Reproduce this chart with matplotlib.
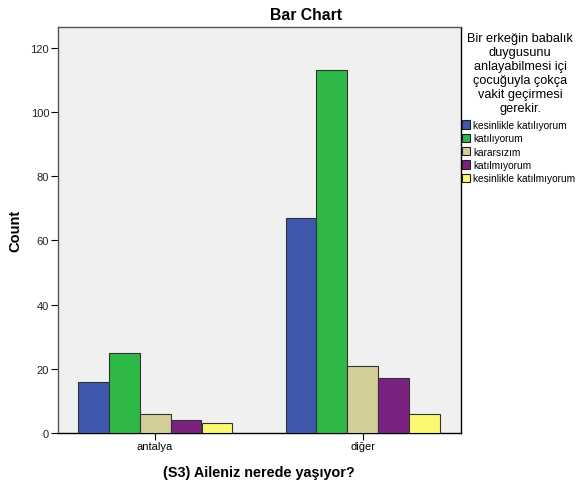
import numpy as np
import matplotlib.pyplot as plt
from matplotlib.patches import Patch

# veriler
categories = ['antalya', 'diğer']
responses = ['kesinlikle katılıyorum', 'katılıyorum', 'kararsızım',
             'katılmıyorum', 'kesinlikle katılmıyorum']
counts = {
    'kesinlikle katılıyorum': [16, 67],
    'katılıyorum': [25, 113],
    'kararsızım': [6, 21],
    'katılmıyorum': [4, 17],
    'kesinlikle katılmıyorum': [3, 6],
}
colors = ['#3E58AC', '#2EB848', '#D3CE97', '#7B2281', '#FBF873']
y_ticks = [0, 20, 40, 60, 80, 100, 120]
legend_title = ('Bir erkeğin babalık\nduygusunu\nanlayabilmesi içi\n'
                'çocuğuyla çokça\nvakit geçirmesi\ngerekir.')

plt.rcParams['font.family'] = ['Liberation Sans', 'DejaVu Sans']

fig = plt.figure(figsize=(5.77, 4.81), dpi=100)
# alan: sol 57.5, sağ 460.7, üst 28, alt 434 (piksel)
ax = fig.add_axes([57.5 / 577, 1 - 434 / 481, (460.7 - 57.5) / 577, (434 - 28) / 481])
ax.set_facecolor('#F0F0F0')

x = np.arange(len(categories))
w = 0.149
for i, (resp, c) in enumerate(zip(responses, colors)):
    offs = (i - 2) * w
    ax.bar(x + offs, counts[resp], width=w, color=c, edgecolor='#333333',
           linewidth=0.8, zorder=3)

ax.set_xlim(-0.469, 1.47)
ax.set_ylim(0, 126.5)
ax.set_xticks(x)
ax.set_xticklabels(categories, fontsize=8)
ax.set_yticks(y_ticks)
ax.set_yticklabels([str(v) for v in y_ticks], fontsize=8, color='#222222')
ax.tick_params(axis='both', direction='out', length=5, width=0.8, pad=1)

for s in ['right', 'bottom']:
    ax.spines[s].set_color('black')
    ax.spines[s].set_linewidth(1.0)
for s in ['left', 'top']:
    ax.spines[s].set_color('#555555')
    ax.spines[s].set_linewidth(1.0)

ax.set_ylabel('Count', fontsize=10.5, fontweight='bold', labelpad=6)
ax.set_xlabel('(S3) Aileniz nerede yaşıyor?', fontsize=10.4, fontweight='bold', labelpad=10)

fig.text(306 / 577, 1 - 15 / 481, 'Bar Chart', ha='center', va='center',
         fontsize=11.3, fontweight='bold')

# lejant başlığı ayrı metin olarak
fig.text(520 / 577, 1 - 33 / 481, legend_title, ha='center', va='top',
         multialignment='center', fontsize=9.2, linespacing=1.22)

handles = [Patch(facecolor=c, edgecolor='#222222', linewidth=0.8) for c in colors]
fig.legend(handles, responses, loc='upper left',
           bbox_to_anchor=(460 / 577, 1 - 119 / 481), frameon=False,
           fontsize=7.3, handlelength=0.8, handleheight=0.9,
           handletextpad=0.3, labelspacing=0.33, borderaxespad=0, borderpad=0.2)

fig.savefig('out.png', dpi=100)
